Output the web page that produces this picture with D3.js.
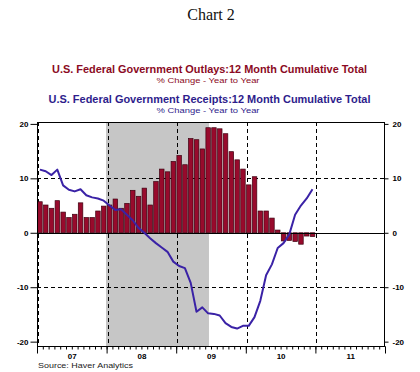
<!DOCTYPE html>
<html>
<head>
<meta charset="utf-8">
<script src="https://cdn.jsdelivr.net/npm/d3@7"></script>
<style>
  body { margin: 0; background: #fff; }
  text { font-family: "Liberation Sans", Arial, sans-serif; }
</style>
</head>
<body>
<div id="chart"></div>
<script>
// ---------Data----------
// monthly % change y/y, Jan 2007 .. Dec 2010
const outlays = [5.7, 5.1, 4.5, 5.9, 3.8, 2.8, 3.4, 5.5, 2.8, 2.8, 4.0, 4.9,
  5.1, 6.2, 4.5, 5.4, 7.8, 6.7, 8.2, 5.1, 9.4, 11.7, 11.2, 13.1,
  14.2, 12.5, 17.3, 17.1, 15.4, 19.3, 19.3, 19.1, 18.2, 14.9, 13.4, 11.7,
  8.8, 10.3, 4.0, 4.0, 2.7, 0.5, -1.5, -1.4, -1.6, -2.1, -0.6, -0.7];
const receipts = [11.6, 11.3, 10.6, 11.6, 8.7, 7.9, 7.6, 8.0, 6.9, 6.5, 6.3, 5.9,
  5.0, 4.2, 4.3, 3.3, 2.3, 0.9, 0.0, -1.0, -1.9, -2.7, -3.5, -5.3,
  -6.1, -6.5, -9.2, -14.5, -13.7, -14.8, -14.9, -15.2, -16.6, -17.3, -17.6, -17.1,
  -17.1, -15.5, -12.5, -7.8, -5.8, -2.8, -1.9, -0.3, 3.3, 5.0, 6.3, 8.0];
const yearLabels = ["07", "08", "09", "10", "11"];
const yTicks = [-20, -10, 0, 10, 20];
const recession = [11.9, 29.65]; // months since Jan 2007 (Dec 2007 - Jun 2009)

// ---------Dimensions----------
const width = 420;
const height = 372;
const plot = { left: 37, right: 385, top: 122, bottom: 346 };

const svg = d3.select("#chart")
  .append("svg")
  .attr("width", width)
  .attr("height", height);

// Scales
const x = d3.scaleLinear()
  .domain([0, 12 * yearLabels.length])
  .range([plot.left, plot.right]);

const y = d3.scaleLinear()
  .domain([-20.8, 20.35])
  .range([plot.bottom, plot.top]);

// Titles
svg.append("text")
  .attr("x", 211).attr("y", 20)
  .attr("text-anchor", "middle")
  .style("font-family", "'Liberation Serif', 'Times New Roman', serif")
  .style("font-size", "16px")
  .attr("fill", "#111")
  .text("Chart 2");

const legend = [
  { t: "U.S. Federal Government Outlays:12 Month Cumulative Total", y: 73, len: 315, c: "#8b0a24" },
  { t: "U.S. Federal Government Receipts:12 Month Cumulative Total", y: 103, len: 322, c: "#2e1d8c" }
];
legend.forEach(d => {
  svg.append("text")
    .attr("x", 209.5).attr("y", d.y)
    .attr("text-anchor", "middle")
    .attr("textLength", d.len)
    .attr("lengthAdjust", "spacingAndGlyphs")
    .style("font-size", "10px")
    .style("font-weight", "bold")
    .attr("fill", d.c)
    .text(d.t);
  svg.append("text")
    .attr("x", 208).attr("y", d.y + 10)
    .attr("text-anchor", "middle")
    .attr("textLength", 103)
    .attr("lengthAdjust", "spacingAndGlyphs")
    .style("font-size", "7px")
    .attr("fill", d.c)
    .text("% Change - Year to Year");
});

// Recession shading
svg.append("rect")
  .attr("x", x(recession[0]))
  .attr("y", plot.top)
  .attr("width", x(recession[1]) - x(recession[0]))
  .attr("height", plot.bottom - plot.top)
  .attr("fill", "#c6c6c6");

// Gridlines
svg.selectAll(".hgrid")
  .data([10, -10])
  .enter()
  .append("line")
  .attr("x1", plot.left).attr("x2", plot.right)
  .attr("y1", d => Math.round(y(d)) + 0.5).attr("y2", d => Math.round(y(d)) + 0.5)
  .attr("stroke", "#000")
  .attr("stroke-dasharray", "4,3");

svg.selectAll(".vgrid")
  .data([0, 12, 24, 36, 48])
  .enter()
  .append("line")
  .attr("x1", d => Math.round(x(d)) + 1.5).attr("x2", d => Math.round(x(d)) + 1.5)
  .attr("y1", plot.top).attr("y2", plot.bottom)
  .attr("stroke", "#000")
  .attr("stroke-dasharray", "4,3");

// Bars
svg.selectAll(".bar")
  .data(outlays)
  .enter()
  .append("rect")
  .attr("class", "bar")
  .attr("x", (d, i) => x(i + 0.12))
  .attr("y", d => y(Math.max(0, d)))
  .attr("width", x(0.78) - x(0))
  .attr("height", d => Math.abs(y(d) - y(0)))
  .attr("fill", "#980a2c")
  .attr("stroke", "#3d0010")
  .attr("stroke-width", 0.7);

// Zero line
svg.append("line")
  .attr("x1", plot.left).attr("x2", plot.right)
  .attr("y1", Math.round(y(0)) + 0.5).attr("y2", Math.round(y(0)) + 0.5)
  .attr("stroke", "#000");

// Receipts line
const line = d3.line()
  .x((d, i) => x(i + 0.5))
  .y(d => y(d));

svg.append("path")
  .datum(receipts)
  .attr("d", line)
  .attr("fill", "none")
  .attr("stroke", "#3a22a6")
  .attr("stroke-width", 2)
  .attr("stroke-linejoin", "round");

// Frame
svg.append("rect")
  .attr("x", plot.left + 0.5).attr("y", plot.top + 0.5)
  .attr("width", plot.right - plot.left - 1)
  .attr("height", plot.bottom - plot.top)
  .attr("fill", "none")
  .attr("stroke", "#000");

// Axes
function styleAxis(g) {
  g.select(".domain").remove();
  g.selectAll("text")
    .style("font-family", "'Liberation Sans', Arial, sans-serif")
    .style("font-size", "8px")
    .style("font-weight", "bold")
    .attr("fill", "#000");
}

svg.append("g")
  .attr("transform", `translate(${plot.left + 0.5}, 0)`)
  .call(d3.axisLeft(y).tickValues(yTicks).tickSize(7).tickPadding(2).tickFormat(d => String(d)))
  .call(styleAxis);

svg.append("g")
  .attr("transform", `translate(${plot.right - 0.5}, 0)`)
  .call(d3.axisRight(y).tickValues(yTicks).tickSize(4).tickPadding(4).tickFormat(d => String(d)))
  .call(styleAxis);

svg.append("g")
  .attr("transform", `translate(0, ${plot.bottom + 0.5})`)
  .call(d3.axisBottom(x).tickValues(d3.range(0, 61)).tickSize(3).tickFormat(""))
  .call(styleAxis);

svg.append("g")
  .attr("transform", `translate(0, ${plot.bottom + 0.5})`)
  .call(d3.axisBottom(x).tickValues(d3.range(0, 61, 12)).tickSize(7).tickFormat(""))
  .call(styleAxis);

svg.append("g")
  .attr("transform", `translate(0, ${plot.bottom + 0.5})`)
  .call(d3.axisBottom(x).tickValues(yearLabels.map((d, i) => i * 12 + 6)).tickSize(0).tickPadding(7)
    .tickFormat((d, i) => yearLabels[i]))
  .call(styleAxis);

// Source
svg.append("text")
  .attr("x", 38).attr("y", 368)
  .attr("textLength", 95)
  .attr("lengthAdjust", "spacingAndGlyphs")
  .style("font-size", "8px")
  .attr("fill", "#222")
  .text("Source: Haver Analytics");
</script>
</body>
</html>
